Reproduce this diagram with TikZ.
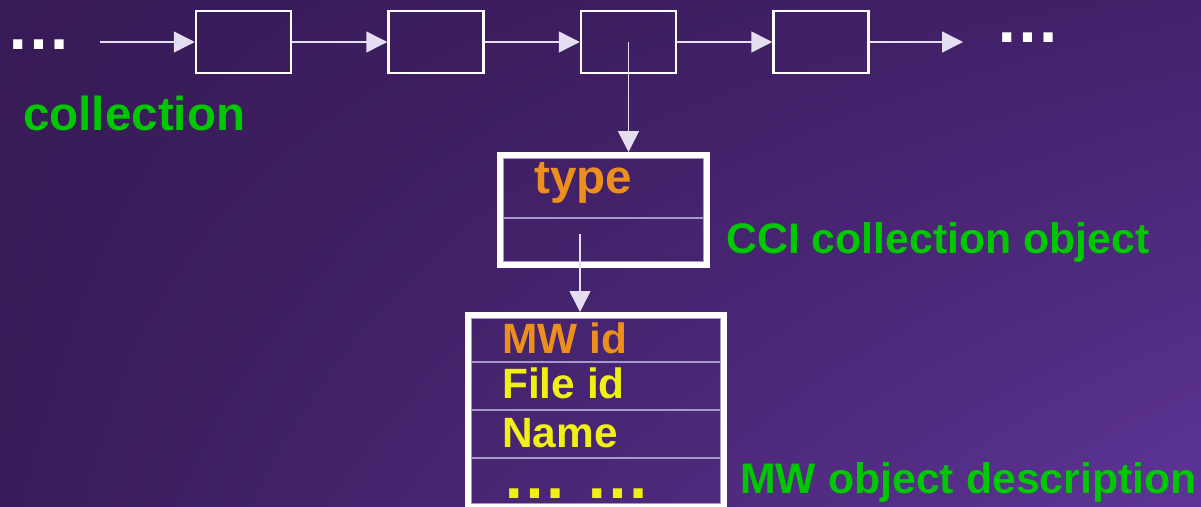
\documentclass[tikz,border=0pt]{standalone}
\usepackage{fontspec}
\setmainfont{Liberation Sans}
\usetikzlibrary{positioning, arrows.meta, shadings}
\definecolor{bgUL}{RGB}{56,26,86}
\definecolor{bgUR}{RGB}{67,33,106}
\definecolor{bgLL}{RGB}{58,28,90}
\definecolor{bgLR}{RGB}{93,52,150}
\definecolor{linkgray}{RGB}{228,222,240}
\definecolor{cellline}{RGB}{170,150,205}
\definecolor{labelgreen}{RGB}{0,200,0}
\definecolor{typeorange}{RGB}{236,143,28}
\definecolor{fieldyellow}{RGB}{240,240,20}
\tikzset{
x=1pt, y=-1pt, % one unit per pixel, y grows downwards
>={Triangle[length=21pt, width=21pt]}, % big filled arrow heads
node distance=95pt, % gap between the boxes of the list
link/.style={->, draw=linkgray, fill=white, line width=1.5pt}, % the pointers
listbox/.style={draw=white, line width=2.5pt, minimum width=95pt, minimum height=62pt}, % list elements
frame/.style={draw=white, line width=6pt, inner sep=0pt}, % thick border of a record
cell/.style={draw=cellline, line width=1.2pt, minimum width=0pt, inner sep=0pt, outer sep=0pt}, % one field of a record
caption/.style={font=\bfseries\fontsize{42.8}{48}\selectfont, text=labelgreen, inner sep=0pt, anchor=base west}, % green labels
field/.style={font=\bfseries\fontsize{42.4}{48}\selectfont, text=fieldyellow, inner sep=0pt, anchor=base west}, % text in the fields
ellipsis/.style={font=\bfseries\fontsize{65}{70}\selectfont, inner sep=0pt, anchor=base west}, % the dots
}
\begin{document}
\begin{tikzpicture}
        \useasboundingbox (0,0) rectangle (1201,506);
        \clip (0,0) rectangle (1201,506);
        \shade[upper left=bgUL, upper right=bgUR, lower left=bgLL, lower right=bgLR] (0,0) rectangle (1201,506);

        % the list
        \node[ellipsis, text=white] (dotsL) at (6,49) {…};
        \coordinate (inL) at (100,42);
        \node[listbox] (box1) at (243.5,42) {};
        \node[listbox, right=of box1] (box2) {};
        \node[listbox, right=of box2] (box3) {};
        \node[listbox, right=of box3] (box4) {};
        \coordinate (outR) at (963,42);
        \node[ellipsis, text=white] (dotsR) at (995,42) {…};
        \node[caption, font=\bfseries\fontsize{47.6}{52}\selectfont] (collLbl) at (23,130) {collection};

        \draw[link] (inL) -- (box1);
        \draw[link] (box1) -- (box2);
        \draw[link] (box2) -- (box3);
        \draw[link] (box3) -- (box4);
        \draw[link] (box4) -- (outR);

        % CCI collection object
        \node[cell, minimum width=201pt, minimum height=60pt] (typeCell) at (603.5,188) {};
        \node[cell, minimum width=201pt, minimum height=44pt] (ptrCell) at (603.5,240) {};
        \node[frame, minimum width=207pt, minimum height=110pt] (cci) at (603.5,210) {};
        \node[field, text=typeorange, font=\bfseries\fontsize{47.6}{52}\selectfont] (typeTxt) at (534,193) {type};
        \node[caption] (cciLbl) at (726,253) {CCI collection object};
        \coordinate (ptr) at (580,234);

        \draw[link] (box3.center) -- (box3.center |- cci.north);

        % MW object description
        \node[cell, minimum width=250pt, minimum height=44pt] (idCell) at (596,340) {};
        \node[cell, minimum width=250pt, minimum height=48pt] (fileCell) at (596,386) {};
        \node[cell, minimum width=250pt, minimum height=48pt] (nameCell) at (596,434) {};
        \node[cell, minimum width=250pt, minimum height=46pt] (moreCell) at (596,481) {};
        \node[frame, minimum width=256pt, minimum height=192pt] (mw) at (596,411) {};
        \node[field, text=typeorange] (idTxt) at (502,353) {MW id};
        \node[field] (fileTxt) at (502,398) {File id};
        \node[field] (nameTxt) at (502,447) {Name};
        \node[ellipsis, text=fieldyellow] (moreTxt) at (502,498) {… …};
        \node[caption] (mwLbl) at (740,493) {MW object description};

        \draw[link] (ptr) -- (ptr |- mw.north);
    \end{tikzpicture}
\end{document}
